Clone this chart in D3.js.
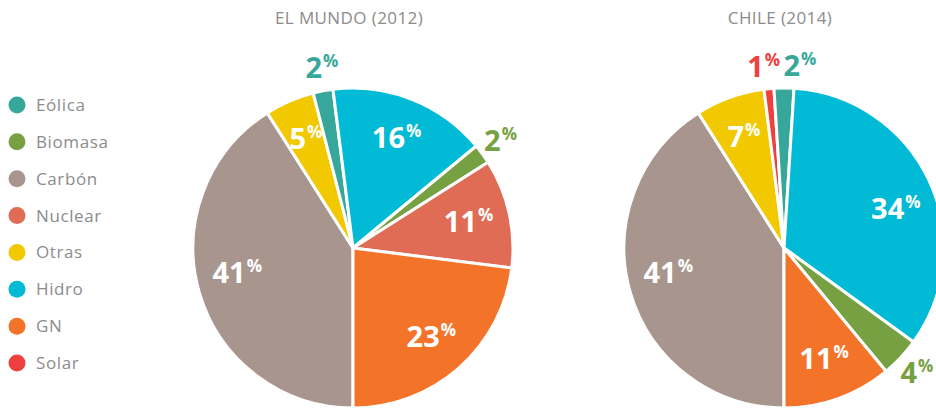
<!DOCTYPE html>
<html>
<head>
<meta charset="utf-8">
<script src="https://cdn.jsdelivr.net/npm/d3@7"></script>
<style>
  body { margin: 0; background: #fff; }
  svg { display: block; font-family: "Open Sans", "Noto Sans", sans-serif; }
</style>
</head>
<body>
<div id="chart"></div>
<script>
// categories, in legend order
const legendCategories = ["Eólica", "Biomasa", "Carbón", "Nuclear", "Otras", "Hidro", "GN", "Solar"];
const colors = ["#38a79b", "#77a043", "#a8968e", "#e06c55", "#f2c800", "#00bad6", "#f37329", "#ef4040"];

// slice order of each pie (clockwise, starting at 6 o'clock)
const mundoCategories = ["Carbón", "Otras", "Eólica", "Hidro", "Biomasa", "Nuclear", "GN"];
const mundoValues = [41, 5, 2, 16, 2, 11, 23];
const chileCategories = ["Carbón", "Otras", "Solar", "Eólica", "Hidro", "Biomasa", "GN"];
const chileValues = [41, 7, 1, 2, 34, 4, 11];

const titles = ["EL MUNDO (2012)", "CHILE (2014)"];

const width = 936, height = 408;
const radius = 160;

const color = d3.scaleOrdinal().domain(legendCategories).range(colors);

const svg = d3.select("#chart").append("svg")
    .attr("width", width)
    .attr("height", height);

// legend
const legendY = d3.scalePoint().domain(legendCategories).range([105, 363]);
const legend = svg.append("g").selectAll("g")
    .data(legendCategories)
    .enter().append("g")
    .attr("transform", d => `translate(17,${legendY(d)})`);
legend.append("circle").attr("r", 8.5).attr("fill", d => color(d));
legend.append("text")
    .attr("x", 19).attr("dy", "0.35em")
    .attr("fill", "#8c8c8c")
    .style("font-size", "17px")
    .style("letter-spacing", "0.6px")
    .text(d => d);

const pie = d3.pie().sort(null).startAngle(Math.PI).endAngle(3 * Math.PI);
const arc = d3.arc().innerRadius(0).outerRadius(radius);

// small slices get their label outside; a few labels nudged (degrees)
const outside = 4;
const nudge = {
    "EL MUNDO (2012)|Eólica": 1,
    "EL MUNDO (2012)|Carbón": 4,
    "CHILE (2014)|Solar": -1,
    "CHILE (2014)|Eólica": 5,
    "CHILE (2014)|Carbón": 4,
    "CHILE (2014)|Hidro": 6
};

function drawPie(cx, title, cats, vals) {
    const g = svg.append("g").attr("transform", `translate(${cx},248)`);
    g.append("text")
        .attr("x", -4).attr("y", -224)
        .attr("text-anchor", "middle")
        .attr("fill", "#8c8c8c")
        .style("font-size", "17px")
        .style("letter-spacing", "0.4px")
        .text(title);

    const arcs = pie(vals).map((a, i) => Object.assign(a, {cat: cats[i]}));

    g.selectAll("path")
        .data(arcs)
        .enter().append("path")
        .attr("d", arc)
        .attr("fill", d => color(d.cat))
        .attr("stroke", "#fff")
        .attr("stroke-width", 3)
        .attr("stroke-linejoin", "round");

    const label = g.selectAll("text.lbl")
        .data(arcs)
        .enter().append("text")
        .attr("class", "lbl")
        .attr("text-anchor", "middle")
        .attr("transform", d => {
            const out = d.value <= outside;
            const a = (d.startAngle + d.endAngle) / 2 + (nudge[title + "|" + d.cat] || 0) * Math.PI / 180;
            const r = out ? radius * 1.14 : radius * 0.74;
            return `translate(${Math.sin(a) * r},${-Math.cos(a) * r + 10})`;
        })
        .attr("fill", d => d.value <= outside ? color(d.cat) : "#fff")
        .style("font-weight", "700");
    label.append("tspan").style("font-size", "29px").text(d => d.value);
    label.append("tspan").style("font-size", "17px").attr("dy", -11).attr("dx", 1).text("%");
}

drawPie(353, titles[0], mundoCategories, mundoValues);
drawPie(784, titles[1], chileCategories, chileValues);
</script>
</body>
</html>
